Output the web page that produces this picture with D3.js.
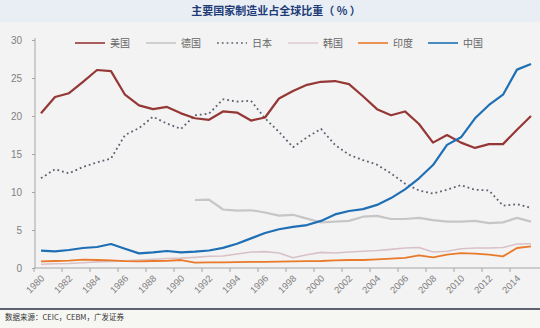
<!DOCTYPE html>
<html>
<head>
<meta charset="utf-8">
<script src="https://cdn.jsdelivr.net/npm/d3@7"></script>
<style>
  html, body { margin: 0; padding: 0; background: #f3f3f3; }
  svg { display: block; font-family: "Noto Sans CJK SC", "Noto Sans", sans-serif; }
</style>
</head>
<body>
<svg id="chart" width="540" height="328"></svg>
<script>
// Share of global manufacturing output by country, 1980–2015 (%)
const years = d3.range(1980, 2016);
const yTicks = [0, 5, 10, 15, 20, 25, 30];
const xTickYears = d3.range(1980, 2016, 2);

const usa = [20.35, 22.5, 23.0, 24.5, 26.05, 25.9, 22.8, 21.4, 20.9, 21.2, 20.35, 19.7,
  19.5, 20.6, 20.45, 19.4, 19.8, 22.3, 23.3, 24.1, 24.5, 24.6, 24.2, 22.6,
  20.9, 20.1, 20.6, 18.95, 16.5, 17.5, 16.5, 15.8, 16.3, 16.3, 18.2, 20.0];
const germany = [null, null, null, null, null, null, null, null, null, null, null, 8.95,
  9.0, 7.7, 7.55, 7.6, 7.3, 6.9, 7.0, 6.5, 6.0, 6.1, 6.2, 6.75,
  6.85, 6.45, 6.45, 6.6, 6.3, 6.1, 6.1, 6.2, 5.9, 6.0, 6.6, 6.1];
const japan = [11.8, 13.0, 12.45, 13.3, 13.9, 14.4, 17.5, 18.4, 19.9, 19.0, 18.3, 20.1,
  20.3, 22.2, 21.9, 22.0, 19.7, 17.9, 15.9, 17.2, 18.3, 16.2, 14.9, 14.2,
  13.6, 12.45, 11.1, 10.2, 9.8, 10.3, 10.9, 10.3, 10.2, 8.2, 8.4, 7.9];
const korea = [0.5, 0.55, 0.6, 0.7, 0.8, 0.85, 0.95, 1.05, 1.15, 1.25, 1.3, 1.4,
  1.54, 1.58, 1.84, 2.1, 2.15, 1.97, 1.35, 1.75, 2.06, 1.97, 2.1, 2.2,
  2.3, 2.45, 2.63, 2.7, 2.1, 2.2, 2.54, 2.63, 2.63, 2.7, 3.16, 3.2];
const india = [0.88, 0.92, 0.96, 1.1, 1.05, 1.0, 0.9, 0.88, 0.92, 0.95, 1.05, 0.72,
  0.75, 0.75, 0.77, 0.8, 0.8, 0.85, 0.88, 0.9, 0.92, 1.0, 1.05, 1.05,
  1.14, 1.23, 1.32, 1.67, 1.4, 1.75, 1.97, 1.9, 1.75, 1.53, 2.63, 2.85];
const china = [2.28, 2.2, 2.37, 2.63, 2.76, 3.16, 2.54, 1.93, 2.06, 2.24, 2.06, 2.15,
  2.3, 2.65, 3.2, 3.9, 4.6, 5.1, 5.4, 5.65, 6.2, 7.05, 7.5, 7.75,
  8.3, 9.2, 10.35, 11.8, 13.55, 16.2, 17.2, 19.7, 21.45, 22.8, 26.1, 26.85];

const seriesNames = ["美国", "德国", "日本", "韩国", "印度", "中国"];
const seriesValues = [usa, germany, japan, korea, india, china];
const seriesStyle = [
  { color: "#953735", width: 2.2, dash: null },
  { color: "#c6c6c6", width: 2.2, dash: null },
  { color: "#5b6170", width: 1.8, dash: "1.8,3" },
  { color: "#d8c2c8", width: 1.6, dash: null },
  { color: "#e87a2a", width: 1.8, dash: null },
  { color: "#1f6fb5", width: 2.2, dash: null }
];

const svg = d3.select("#chart");

// background panels
svg.append("rect").attr("width", 540).attr("height", 328).attr("fill", "#f3f3f3");
svg.append("rect").attr("width", 540).attr("height", 22).attr("fill", "#e9eef5");
svg.append("rect").attr("y", 310).attr("width", 540).attr("height", 18).attr("fill", "#f6f6f3");

svg.append("text")
  .attr("x", 276).attr("y", 15)
  .attr("text-anchor", "middle")
  .attr("font-size", 11).attr("font-weight", "bold")
  .attr("fill", "#1f3c78")
  .text("主要国家制造业占全球比重（ % ）");

const band = d3.scaleBand().domain(years).range([34, 538]).padding(0);
const x = d => band(d) + band.bandwidth() / 2;
const y = d3.scaleLinear().domain([0, 30]).range([268, 40]);

// y axis
const yAxis = svg.append("g")
  .attr("transform", "translate(35,0)")
  .call(d3.axisLeft(y).tickValues(yTicks).tickSize(3).tickPadding(10).tickSizeOuter(0));
yAxis.select(".domain").attr("stroke", "#a6a6a6").attr("d", `M0,${y(0)}V38`);
yAxis.selectAll(".tick line").attr("stroke", "#a6a6a6");
yAxis.selectAll(".tick text")
  .attr("fill", "#808080").attr("font-size", 10)
  .attr("font-family", "Liberation Sans, Arial, sans-serif");

// x axis: ticks sit on category boundaries, every second year
const xAxis = svg.append("g").attr("transform", `translate(0,${y(0)})`);
xAxis.append("line")
  .attr("x1", 34).attr("x2", 540)
  .attr("stroke", "#a6a6a6");
xAxis.selectAll("line.tk").data(xTickYears).join("line")
  .attr("class", "tk")
  .attr("x1", d => band(d)).attr("x2", d => band(d))
  .attr("y1", 0).attr("y2", 4)
  .attr("stroke", "#a6a6a6");
xAxis.selectAll("text").data(xTickYears).join("text")
  .attr("transform", d => `translate(${x(d) + 4},11) rotate(-45)`)
  .attr("text-anchor", "end")
  .attr("font-size", 9.5)
  .attr("font-family", "Liberation Sans, Arial, sans-serif")
  .attr("fill", "#808080")
  .text(d => d);

// series lines
const line = d3.line()
  .defined(d => d.v != null)
  .x(d => x(d.year))
  .y(d => y(d.v));

const drawOrder = [3, 4, 1, 2, 0, 5];
drawOrder.forEach(i => {
  const pts = years.map((yr, k) => ({ year: yr, v: seriesValues[i][k] }));
  svg.append("path")
    .datum(pts)
    .attr("d", line)
    .attr("fill", "none")
    .attr("stroke", seriesStyle[i].color)
    .attr("stroke-width", seriesStyle[i].width)
    .attr("stroke-dasharray", seriesStyle[i].dash)
    .attr("stroke-linejoin", "round");
});

// legend
const legendX = [75, 146, 217, 288, 358, 428];
const legend = svg.append("g");
seriesNames.forEach((name, i) => {
  legend.append("line")
    .attr("x1", legendX[i]).attr("x2", legendX[i] + 30)
    .attr("y1", 43).attr("y2", 43)
    .attr("stroke", seriesStyle[i].color)
    .attr("stroke-width", i === 3 ? 1.2 : 1.6)
    .attr("stroke-dasharray", seriesStyle[i].dash);
  legend.append("text")
    .attr("x", legendX[i] + 35).attr("y", 47)
    .attr("font-size", 10)
    .attr("fill", "#666")
    .text(name);
});

// source footer
svg.append("line")
  .attr("x1", 0).attr("x2", 540).attr("y1", 309).attr("y2", 309)
  .attr("stroke", "#5e6270").attr("stroke-width", 2);
svg.append("text")
  .attr("x", 5).attr("y", 320)
  .attr("font-size", 7.5)
  .attr("fill", "#333")
  .text("数据来源：CEIC，CEBM，广发证券");
</script>
</body>
</html>
